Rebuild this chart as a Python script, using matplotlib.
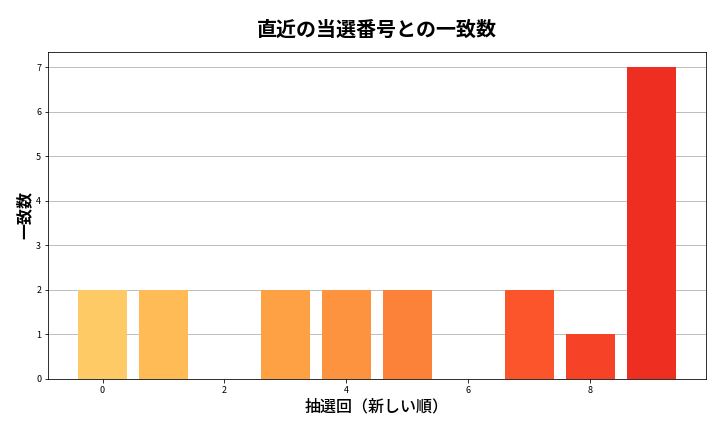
import numpy as np
import matplotlib
matplotlib.use("Agg")
import matplotlib.pyplot as plt

plt.rcParams['font.family'] = ['Noto Sans CJK JP', 'DejaVu Sans']

draws = list(range(10))
matches = [2, 2, 0, 2, 2, 2, 0, 2, 1, 7]

colors = plt.cm.YlOrRd(np.linspace(0.3, 0.7, len(draws)))

fig, ax = plt.subplots(figsize=(10, 6), dpi=72)
ax.bar(draws, matches, color=colors, width=0.8, zorder=2)
ax.set_title('直近の当選番号との一致数', fontsize=20, fontweight='bold', pad=16)
ax.set_xlabel('抽選回（新しい順）', fontsize=16, fontweight='medium')
ax.set_ylabel('一致数', fontsize=16, fontweight='bold')
ax.grid(axis='y', color='#b0b0b0', zorder=0)
ax.tick_params(labelsize=9)
plt.subplots_adjust(left=0.067, right=0.98, bottom=0.123, top=0.88)
plt.savefig('out.png', dpi=72)
